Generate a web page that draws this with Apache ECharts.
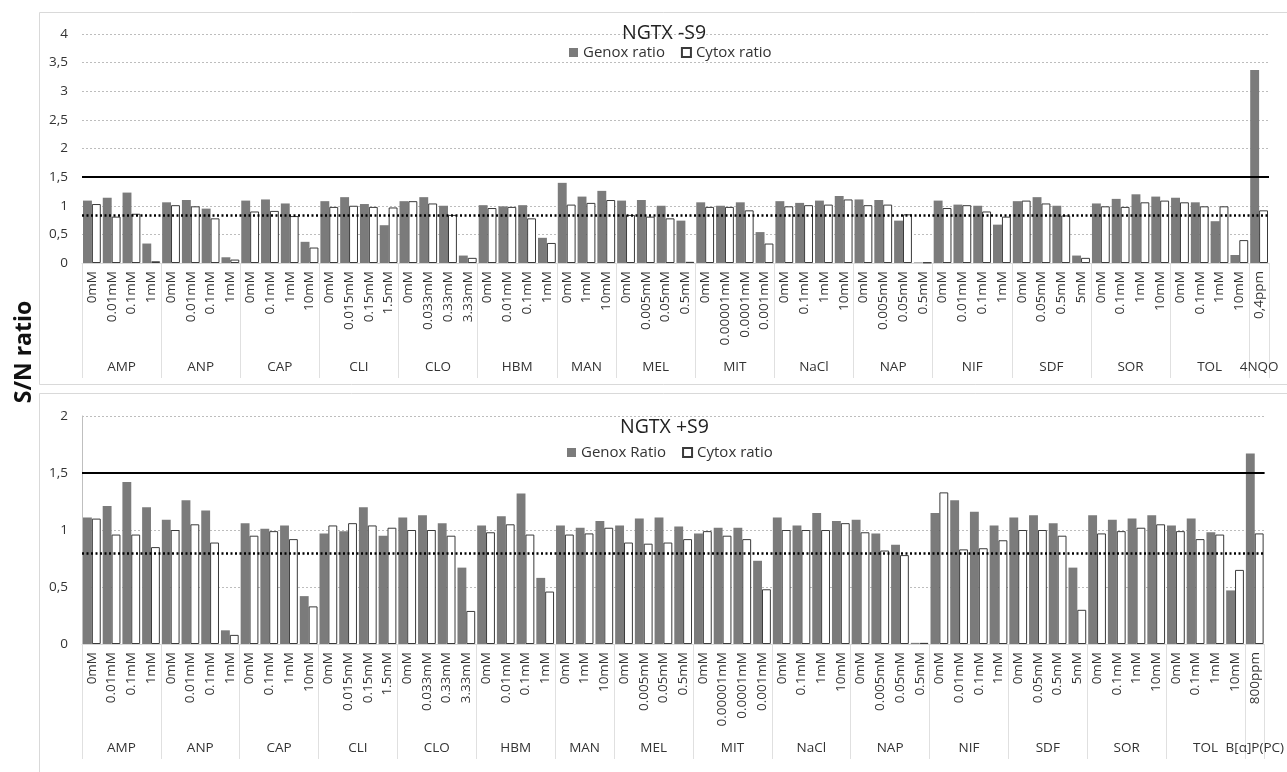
<!DOCTYPE html>
<html>
<head>
<meta charset="utf-8">
<script src="https://cdn.jsdelivr.net/npm/echarts@6/dist/echarts.min.js"></script>
<style>
html,body{margin:0;padding:0;background:#fff;}
#chart{width:1287px;height:772px;}
</style>
</head>
<body>
<div id="chart"></div>
<script>
// ---------- data ----------
const groupNamesTop = ['AMP','ANP','CAP','CLI','CLO','HBM','MAN','MEL','MIT','NaCl','NAP','NIF','SDF','SOR','TOL','4NQO'];
const groupNamesBottom = ['AMP','ANP','CAP','CLI','CLO','HBM','MAN','MEL','MIT','NaCl','NAP','NIF','SDF','SOR','TOL','B[α]P(PC)'];
const groupSizes = [4,4,4,4,4,4,3,4,4,4,4,4,4,4,4,1];

const concTop = ['0mM','0.01mM','0.1mM','1mM', '0mM','0.01mM','0.1mM','1mM', '0mM','0.1mM','1mM','10mM',
  '0mM','0.015mM','0.15mM','1.5mM', '0mM','0.033mM','0.33mM','3.33mM', '0mM','0.01mM','0.1mM','1mM',
  '0mM','1mM','10mM', '0mM','0.005mM','0.05mM','0.5mM', '0mM','0.00001mM','0.0001mM','0.001mM',
  '0mM','0.1mM','1mM','10mM', '0mM','0.005mM','0.05mM','0.5mM', '0mM','0.01mM','0.1mM','1mM',
  '0mM','0.05mM','0.5mM','5mM', '0mM','0.1mM','1mM','10mM', '0mM','0.1mM','1mM','10mM', '0,4ppm'];
const concBottom = concTop.slice(0, 59).concat(['800ppm']);

const genoxTop = [1.09,1.14,1.23,0.34, 1.06,1.10,0.95,0.10, 1.09,1.11,1.04,0.37, 1.08,1.15,1.03,0.66,
  1.08,1.15,1.00,0.13, 1.01,0.99,1.01,0.44, 1.40,1.16,1.26, 1.09,1.10,1.00,0.74, 1.06,1.00,1.06,0.54,
  1.08,1.05,1.09,1.17, 1.11,1.10,0.74,0.01, 1.09,1.02,1.00,0.67, 1.08,1.15,1.00,0.13,
  1.04,1.12,1.20,1.16, 1.14,1.06,0.73,0.14, 3.37];
const cytoxTop = [1.03,0.81,0.86,0.03, 1.01,0.99,0.78,0.06, 0.90,0.91,0.82,0.27, 0.98,1.00,0.98,0.97,
  1.08,1.04,0.84,0.09, 0.96,0.98,0.78,0.35, 1.02,1.05,1.10, 0.84,0.81,0.78,0.02, 0.98,0.98,0.92,0.34,
  0.99,1.01,1.02,1.11, 1.01,1.02,0.85,0.01, 0.96,1.01,0.90,0.81, 1.09,1.04,0.83,0.09,
  0.99,0.98,1.06,1.09, 1.06,0.99,0.99,0.40, 0.92];

const genoxBottom = [1.11,1.21,1.42,1.20, 1.09,1.26,1.17,0.12, 1.06,1.01,1.04,0.42, 0.97,0.99,1.20,0.95,
  1.11,1.13,1.06,0.67, 1.04,1.12,1.32,0.58, 1.04,1.02,1.08, 1.04,1.10,1.11,1.03, 0.97,1.02,1.02,0.73,
  1.11,1.04,1.15,1.08, 1.09,0.97,0.87,0.01, 1.15,1.26,1.16,1.04, 1.11,1.13,1.06,0.67,
  1.13,1.09,1.10,1.13, 1.04,1.10,0.98,0.47, 1.67];
const cytoxBottom = [1.10,0.96,0.96,0.85, 1.00,1.05,0.89,0.08, 0.95,0.99,0.92,0.33, 1.04,1.06,1.04,1.02,
  1.00,1.00,0.95,0.29, 0.98,1.05,0.96,0.46, 0.96,0.97,1.02, 0.89,0.88,0.89,0.92, 0.99,0.95,0.92,0.48,
  1.00,1.00,1.00,1.06, 0.98,0.82,0.78,0.01, 1.33,0.83,0.84,0.91, 1.00,1.00,0.95,0.30,
  0.97,0.99,1.02,1.05, 0.99,0.92,0.96,0.65, 0.97];

const thresholdGenox = 1.5;
const thresholdCytoxTop = 0.83;
const thresholdCytoxBottom = 0.8;

// ---------- helpers ----------
const FONT = 'Open Sans';
const TXT = '#333';
function buildGroupAxis(names) {
  // half-step positions along the category axis (0 .. 2*N)
  const total = groupSizes.reduce((a, b) => a + b, 0);
  const data = new Array(2 * total + 1).fill('');
  const bounds = new Set();
  let s = 0;
  groupSizes.forEach((n, i) => {
    bounds.add(2 * s);
    data[2 * s + n] = names[i];
    s += n;
  });
  bounds.add(2 * s);
  return { data, bounds };
}
const gTop = buildGroupAxis(groupNamesTop);
const gBot = buildGroupAxis(groupNamesBottom);

function concAxis(gridIndex, data) {
  return {
    type: 'category', gridIndex, data, position: 'bottom',
    axisLine: { show: true, lineStyle: { color: '#d9d9d9', width: 1 } },
    axisTick: { show: false },
    axisLabel: { interval: 0, rotate: 90, margin: 8, fontSize: 13.5, fontFamily: FONT, color: TXT }
  };
}
function groupAxis(gridIndex, g) {
  return {
    type: 'category', gridIndex, data: g.data, position: 'bottom', boundaryGap: false,
    axisLine: { show: false },
    axisTick: { show: true, length: 115, interval: (i) => g.bounds.has(i), lineStyle: { color: '#e0e0e0', width: 1 } },
    axisLabel: { interval: 0, margin: 97, fontSize: 13.5, fontFamily: FONT, color: TXT },
    splitLine: { show: false }
  };
}
function valAxis(gridIndex, max, showLine) {
  return {
    type: 'value', gridIndex, min: 0, max, interval: 0.5,
    axisLine: { show: showLine, lineStyle: { color: '#bfbfbf' } },
    axisTick: { show: false },
    axisLabel: { margin: 14, fontSize: 13.5, fontFamily: FONT, color: TXT,
      formatter: v => String(v).replace('.', ',') },
    splitLine: { show: true, lineStyle: { color: '#bdbdbd', type: [2, 2], width: 1 } }
  };
}
function bars(name, data, xi, yi, isGenox, cytoxLine) {
  const s = {
    name, type: 'bar', data, xAxisIndex: xi, yAxisIndex: yi,
    barGap: '0%', barCategoryGap: '10%',
    itemStyle: isGenox ? { color: '#7b7b7b' } : { color: '#ffffff', borderColor: '#3a3a3a', borderWidth: 1 }
  };
  if (!isGenox) {
    s.markLine = {
      silent: true, symbol: ['none', 'none'], label: { show: false },
      data: [
        { yAxis: thresholdGenox, lineStyle: { color: '#000', width: 2, type: 'solid' } },
        { yAxis: cytoxLine, lineStyle: { color: '#000', width: 2.5, type: [2, 2.5] } }
      ]
    };
  }
  return s;
}

const chart = echarts.init(document.getElementById('chart'), null, { renderer: 'canvas' });
chart.setOption({
  animation: false,
  backgroundColor: '#fff',
  textStyle: { fontFamily: FONT },
  title: [
    { text: 'NGTX -S9', left: 622, top: 23, padding: 0, textStyle: { fontSize: 19.5, fontWeight: 'normal', color: '#222', fontFamily: FONT } },
    { text: 'NGTX +S9', left: 620, top: 417, padding: 0, textStyle: { fontSize: 19.5, fontWeight: 'normal', color: '#222', fontFamily: FONT } }
  ],
  legend: [
    { data: ['Genox ratio', 'Cytox ratio'], left: 569, top: 45, padding: 0, itemWidth: 9, itemHeight: 9, itemGap: 16,
      icon: 'rect', textStyle: { fontSize: 15, color: TXT, fontFamily: FONT } },
    { data: ['Genox Ratio', 'Cytox ratio '], left: 567, top: 445, padding: 0, itemWidth: 9, itemHeight: 9, itemGap: 16,
      icon: 'rect', textStyle: { fontSize: 15, color: TXT, fontFamily: FONT },
      formatter: n => n.trim() }
  ],
  grid: [
    { left: 82, right: 18, top: 34, height: 229, containLabel: false },
    { left: 82, right: 18, top: 416, height: 228, containLabel: false }
  ],
  xAxis: [concAxis(0, concTop), groupAxis(0, gTop), concAxis(1, concBottom), groupAxis(1, gBot)],
  yAxis: [valAxis(0, 4, false), valAxis(1, 2, true)],
  series: [
    bars('Genox ratio', genoxTop, 0, 0, true),
    bars('Cytox ratio', cytoxTop, 0, 0, false, thresholdCytoxTop),
    bars('Genox Ratio', genoxBottom, 2, 1, true),
    bars('Cytox ratio ', cytoxBottom, 2, 1, false, thresholdCytoxBottom)
  ],
  graphic: [
    { type: 'rect', silent: true, z: -10, shape: { x: 39.5, y: 12.5, width: 1300, height: 372 },
      style: { fill: 'none', stroke: '#d9d9d9', lineWidth: 1 } },
    { type: 'rect', silent: true, z: -10, shape: { x: 39.5, y: 393.5, width: 1300, height: 400 },
      style: { fill: 'none', stroke: '#d9d9d9', lineWidth: 1 } },
    { type: 'text', silent: true, x: 24, y: 352, rotation: Math.PI / 2,
      style: { text: 'S/N ratio', font: 'bold 23px "Open Sans"', fill: '#111', textAlign: 'center', textVerticalAlign: 'middle' } }
  ]
});
</script>
</body>
</html>
